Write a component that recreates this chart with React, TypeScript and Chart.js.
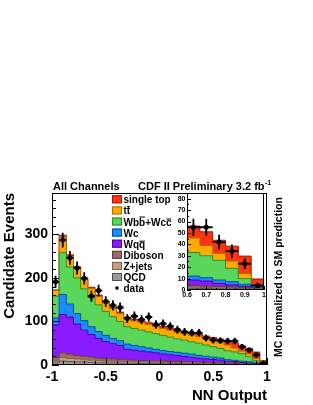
import React, { useEffect, useRef } from 'react';
import { Chart, registerables } from 'chart.js';

Chart.register(...registerables);

const FONT = '"Liberation Sans", Arial, Helvetica, sans-serif';

// Histogram binning
const X_MIN = -1;
const X_MAX = 1;
const N_BINS = 30;

// Observed data (events per bin)
const dataCounts = [191, 287, 246, 223, 199, 158, 171, 146, 137, 132, 107, 112, 104, 110, 93, 95, 89, 81, 76, 74, 74, 62, 57, 56, 55, 55, 42, 34, 23, 4];

// MC templates (per bin, stacked bottom -> top)
const qcd = [5, 9, 8, 7, 7, 6, 5, 5, 5, 4.5, 4, 4, 3.5, 3.5, 3.5, 3, 3, 3, 2.5, 2.5, 2.5, 2, 2, 2, 1.5, 1.3, 1.1, 1, 0.8, 0.6];
const zjets = [4, 8, 7, 7, 5, 5, 5, 4, 4, 4, 4, 3.5, 3.5, 3.5, 3, 3, 2.5, 2.5, 2.5, 2.5, 2, 2, 1.5, 1.5, 1, 0.9, 0.8, 0.6, 0.5, 0.4];
const diboson = [8, 11, 10, 8, 8, 7, 6, 6, 5, 4.5, 4, 3.5, 3.5, 3, 3, 3, 3, 2.5, 2.5, 2, 2, 2, 2, 1.5, 1.5, 1.3, 1.1, 0.9, 0.7, 0.5];
const wqq = [75, 88, 85, 72, 60, 52, 45, 39, 35, 32, 24, 23, 21.5, 20, 18.5, 16.5, 15, 13.5, 12, 10.5, 9, 8, 7, 6, 4.7, 4.3, 2.8, 1.9, 1.2, 0.5];
const wc = [16, 46, 30, 24, 22, 18, 16, 14, 12, 11, 12, 11, 10, 9, 8, 7.5, 7.5, 7.5, 7.5, 7.5, 6.5, 6, 5.5, 5, 3.5, 3, 2.9, 2.9, 1.8, 0.9];
const wbb = [50, 96, 85, 82, 73, 67, 61, 55, 50, 44, 40, 39, 38, 37, 36, 35, 33, 31, 30, 28, 28, 26, 24, 22, 20.6, 19.2, 17.3, 11.7, 5, 0.6];
const ttbar = [13, 36, 24, 22, 21, 20, 19, 19, 18, 18, 18, 17, 17, 17, 16, 16, 16, 15, 15, 15, 15, 14, 14, 13, 12.8, 9, 6, 6.3, 4.5, 0.9];
const singleTop = [1.5, 4, 4, 3.5, 3.5, 3.5, 3.5, 3.5, 3.5, 3.5, 3.5, 4, 4, 4, 4.5, 4.5, 5, 5, 5.5, 6, 6, 6.5, 7, 8, 10.4, 12, 11.6, 13.1, 15.2, 5.2];

const seriesNames = ['QCD', 'Z+jets', 'Diboson', 'Wqq\u0305', 'Wc', 'Wbb\u0305+Wcc\u0305', 'tt\u0305', 'single top'];
const seriesFill = ['#9a9a9a', '#c8a080', '#a06868', '#8a1aff', '#1a8cff', '#5ad65a', '#ffaa00', '#ff3311'];
const seriesLine = ['#505050', '#806040', '#603a3a', '#50009a', '#0050a0', '#2a8a2a', '#b06a00', '#a01800'];

// Legend (top -> bottom)
const legendLabels = ['single top', 'tt\u0305', 'Wbb\u0305+Wcc\u0305', 'Wc', 'Wqq\u0305', 'Diboson', 'Z+jets', 'QCD', 'data'];
const legendSeriesIndex = [7, 6, 5, 4, 3, 2, 1, 0, -1];

// Axis tick labels
const mainXTicks = [-1, -0.5, 0, 0.5, 1];
const mainYTicks = [0, 100, 200, 300];
const insetXTicks = [0.6, 0.7, 0.8, 0.9, 1];
const insetYTicks = [0, 10, 20, 30, 40, 50, 60, 70, 80];

const BIN_W = (X_MAX - X_MIN) / N_BINS;

function buildDatasets() {
  const layers = [qcd, zjets, diboson, wqq, wc, wbb, ttbar, singleTop];
  const cum = new Array(N_BINS).fill(0);
  const ds: any[] = layers.map((vals, k) => {
    for (let i = 0; i < N_BINS; i++) cum[i] += vals[i];
    const pts = cum.map((v, i) => ({ x: X_MIN + i * BIN_W, y: v }));
    pts.push({ x: X_MAX, y: cum[N_BINS - 1] });
    return {
      type: 'line',
      label: seriesNames[k],
      data: pts,
      stepped: true,
      fill: k === 0 ? 'origin' : '-1',
      backgroundColor: seriesFill[k],
      borderColor: seriesLine[k],
      borderWidth: 1,
      pointRadius: 0,
      order: 1,
    };
  });
  ds.push({
    type: 'line',
    label: 'data',
    data: dataCounts.map((v, i) => ({ x: X_MIN + (i + 0.5) * BIN_W, y: v })),
    showLine: false,
    pointRadius: 2.2,
    pointBackgroundColor: '#000',
    pointBorderColor: '#000',
    order: -1,
  });
  return ds;
}

function fmtNum(v: number) {
  const r = Math.round(v * 100) / 100;
  return String(r);
}

function makeFramePlugin(cfg: any) {
  return {
    id: 'frameTicks',
    afterDatasetsDraw(chart: any) {
      const { ctx, chartArea: a, scales } = chart;
      const xs = scales.x;
      const ys = scales.y;
      const w = (X_MAX - X_MIN) / N_BINS;
      ctx.save();
      // error bars
      ctx.beginPath();
      ctx.rect(a.left, a.top, a.right - a.left, a.bottom - a.top);
      ctx.clip();
      ctx.strokeStyle = '#000';
      ctx.lineWidth = cfg.errW;
      ctx.beginPath();
      dataCounts.forEach((n, i) => {
        const c = X_MIN + (i + 0.5) * w;
        if (c < xs.min || c > xs.max) return;
        const e = Math.sqrt(n);
        ctx.moveTo(xs.getPixelForValue(c - w / 2), ys.getPixelForValue(n));
        ctx.lineTo(xs.getPixelForValue(c + w / 2), ys.getPixelForValue(n));
        ctx.moveTo(xs.getPixelForValue(c), ys.getPixelForValue(Math.max(0, n - e)));
        ctx.lineTo(xs.getPixelForValue(c), ys.getPixelForValue(n + e));
      });
      ctx.stroke();
      ctx.restore();

      ctx.save();
      ctx.strokeStyle = '#000';
      ctx.lineWidth = 1;
      ctx.beginPath();
      for (let k = 0; ; k++) {
        const v = ys.min + k * cfg.yMinor;
        if (v > ys.max + 1e-9) break;
        const r = v / cfg.yMajor;
        const major = Math.abs(r - Math.round(r)) < 1e-6;
        const len = major ? cfg.majorLen : cfg.minorLen;
        const py = Math.round(ys.getPixelForValue(v)) + 0.5;
        ctx.moveTo(a.left, py);
        ctx.lineTo(a.left + len, py);
      }
      for (let k = 0; ; k++) {
        const v = xs.min + k * cfg.xMinor;
        if (v > xs.max + 1e-9) break;
        const r = v / cfg.xMajor;
        const major = Math.abs(r - Math.round(r)) < 1e-6;
        const len = major ? cfg.majorLen : cfg.minorLen;
        const px = Math.round(xs.getPixelForValue(v)) + 0.5;
        ctx.moveTo(px, a.bottom);
        ctx.lineTo(px, a.bottom - len);
      }
      ctx.stroke();
      ctx.lineWidth = 1;
      ctx.strokeRect(a.left + 0.5, a.top + 0.5, a.right - a.left - 1, a.bottom - a.top - 1);
      ctx.restore();
    },
  };
}

// draw text containing U+0305 combining overlines, adding the bar manually
function fillTextWithBars(ctx: CanvasRenderingContext2D, text: string, x: number, baseline: number) {
  const plain = text.replace(/\u0305/g, '');
  ctx.fillText(plain, x, baseline);
  let plainPos = 0;
  for (let i = 0; i < text.length; i++) {
    if (text[i] === '\u0305') {
      const before = plain.slice(0, plainPos - 1);
      const ch = plain[plainPos - 1];
      const x0 = x + ctx.measureText(before).width;
      const cw = ctx.measureText(ch).width;
      const h = 'bdfhkl'.includes(ch) ? 9 : ch === 't' ? 8.5 : 7;
      ctx.fillRect(x0 + 0.3, baseline - h, cw - 0.6, 1);
    } else {
      plainPos++;
    }
  }
}

const annotationPlugin = {
  id: 'annotations',
  afterDraw(chart: any) {
    const ctx = chart.ctx;
    ctx.save();
    ctx.fillStyle = '#000';
    ctx.textBaseline = 'alphabetic';
    ctx.textAlign = 'left';
    ctx.font = `bold 11px ${FONT}`;
    ctx.fillText('All Channels', 53, 190);
    const main = 'CDF II Preliminary 3.2 fb';
    ctx.fillText(main, 138, 190);
    const mw = ctx.measureText(main).width;
    ctx.font = `bold 7px ${FONT}`;
    ctx.fillText('-1', 138 + mw + 0.5, 185);

    // legend
    const rowY0 = 199.3;
    const rowDy = 11.1;
    ctx.font = `bold 10px ${FONT}`;
    ctx.textBaseline = 'alphabetic';
    legendLabels.forEach((lab, r) => {
      const y = rowY0 + r * rowDy;
      const si = legendSeriesIndex[r];
      if (si >= 0) {
        ctx.fillStyle = seriesFill[si];
        ctx.fillRect(112, y - 4, 10, 8);
        ctx.strokeStyle = seriesLine[si];
        ctx.lineWidth = 1;
        ctx.strokeRect(112.5, y - 3.5, 9, 7);
      } else {
        ctx.fillStyle = '#000';
        ctx.beginPath();
        ctx.arc(117, y, 1.8, 0, Math.PI * 2);
        ctx.fill();
      }
      ctx.fillStyle = '#000';
      fillTextWithBars(ctx, lab, 123.5, y + 4);
    });

    // right side rotated note
    ctx.save();
    ctx.translate(279, 277);
    ctx.rotate(-Math.PI / 2);
    ctx.textAlign = 'center';
    ctx.textBaseline = 'middle';
    ctx.font = `bold 10.5px ${FONT}`;
    ctx.fillText('MC normalized to SM prediction', 0, 0);
    ctx.restore();
    ctx.restore();
  },
};

function fixedTicks(values: number[]) {
  return (s: any) => {
    s.ticks = values.map((v) => ({ value: v }));
  };
}

function mainConfig(): any {
  return {
    type: 'line',
    data: { datasets: buildDatasets() },
    options: {
      responsive: false,
      animation: false,
      devicePixelRatio: 1,
      layout: { padding: { left: 0, top: 193, right: 46, bottom: 0 } },
      plugins: { legend: { display: false }, tooltip: { enabled: false }, title: { display: false } },
      scales: {
        x: {
          type: 'linear',
          min: X_MIN,
          max: X_MAX,
          grid: { display: false, drawTicks: false },
          border: { display: false },
          afterBuildTicks: fixedTicks(mainXTicks),
          ticks: {
            autoSkip: false,
            maxRotation: 0,
            padding: 4,
            color: '#000',
            font: { family: FONT, size: 14, weight: 'bold' },
            callback: (v: number) => fmtNum(v),
          },
          title: {
            display: true,
            text: 'NN Output',
            align: 'end',
            color: '#000',
            font: { family: FONT, size: 15, weight: 'bold' },
            padding: { top: 3, bottom: 0 },
          },
          afterFit: (s: any) => { s.height = 40; },
        },
        y: {
          type: 'linear',
          min: 0,
          max: 395,
          grid: { display: false, drawTicks: false },
          border: { display: false },
          afterBuildTicks: fixedTicks(mainYTicks),
          ticks: {
            autoSkip: false,
            padding: 4,
            color: '#000',
            font: { family: FONT, size: 14, weight: 'bold' },
            callback: (v: number) => fmtNum(v),
          },
          title: {
            display: true,
            text: 'Candidate Events',
            align: 'end',
            color: '#000',
            font: { family: FONT, size: 15, weight: 'bold' },
            padding: { top: 1, bottom: 0 },
          },
          afterFit: (s: any) => { s.width = 52; },
        },
      },
    },
    plugins: [makeFramePlugin({ yMajor: 100, yMinor: 20, xMajor: 0.5, xMinor: 0.1, majorLen: 7, minorLen: 4, errW: 1.8 }), annotationPlugin],
  };
}

function insetConfig(): any {
  return {
    type: 'line',
    data: { datasets: buildDatasets() },
    options: {
      responsive: false,
      animation: false,
      devicePixelRatio: 1,
      layout: { padding: { left: 0, top: 7, right: 6, bottom: 0 } },
      plugins: { legend: { display: false }, tooltip: { enabled: false } },
      scales: {
        x: {
          type: 'linear',
          min: 0.6,
          max: 1,
          grid: { display: false, drawTicks: false },
          border: { display: false },
          afterBuildTicks: fixedTicks(insetXTicks),
          ticks: {
            autoSkip: false,
            maxRotation: 0,
            padding: 1,
            color: '#000',
            font: { family: FONT, size: 7, weight: 'bold' },
            callback: (v: number) => fmtNum(v),
          },
          afterFit: (s: any) => { s.height = 16; },
        },
        y: {
          type: 'linear',
          min: 0,
          max: 85,
          grid: { display: false, drawTicks: false },
          border: { display: false },
          afterBuildTicks: fixedTicks(insetYTicks),
          ticks: {
            autoSkip: false,
            padding: 1.5,
            color: '#000',
            font: { family: FONT, size: 7, weight: 'bold' },
            callback: (v: number) => fmtNum(v),
          },
          afterFit: (s: any) => { s.width = 22; },
        },
      },
    },
    plugins: [makeFramePlugin({ yMajor: 10, yMinor: 5, xMajor: 0.1, xMinor: 0.05, majorLen: 4, minorLen: 2, errW: 1.8 })],
  };
}

export default function App() {
  const mainRef = useRef<HTMLCanvasElement>(null);
  const insetRef = useRef<HTMLCanvasElement>(null);
  useEffect(() => {
    const main = new Chart(mainRef.current as HTMLCanvasElement, mainConfig());
    const inset = new Chart(insetRef.current as HTMLCanvasElement, insetConfig());
    return () => {
      main.destroy();
      inset.destroy();
    };
  }, []);
  return (
    <div style={{ position: 'absolute', left: 0, top: 0, width: 313, height: 405, background: '#fff' }}>
      <canvas ref={mainRef} width={313} height={405} style={{ position: 'absolute', left: 0, top: 0, width: 313, height: 405 }} />
      <canvas ref={insetRef} width={105} height={120} style={{ position: 'absolute', left: 165, top: 186, width: 105, height: 120 }} />
    </div>
  );
}
